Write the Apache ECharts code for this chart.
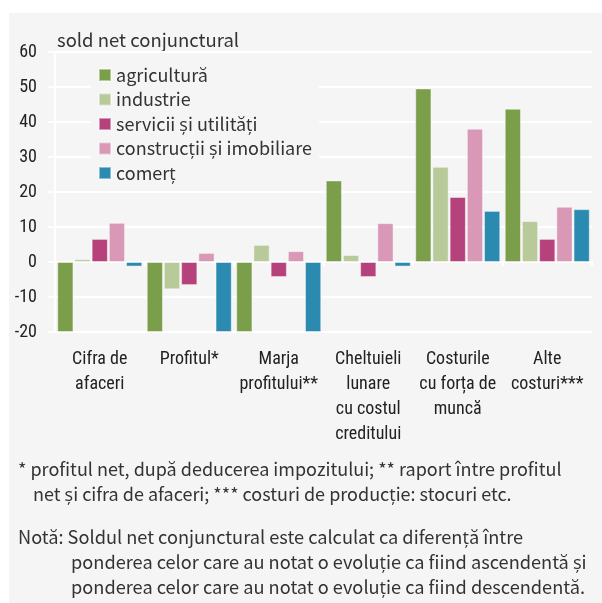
<!DOCTYPE html>
<html>
<head>
<meta charset="utf-8">
<script src="https://cdn.jsdelivr.net/npm/echarts@6/dist/echarts.min.js"></script>
<style>
html, body { margin: 0; padding: 0; background: #fff; }
#chart { width: 602px; height: 603px; }
</style>
</head>
<body>
<div id="chart"></div>
<script>
var categories = ['Cifra de\nafaceri', 'Profitul*', 'Marja\nprofitului**', 'Cheltuieli\nlunare\ncu costul\ncreditului', 'Costurile\ncu forța de\nmuncă', 'Alte\ncosturi***'];
var seriesNames = ['agricultură', 'industrie', 'servicii și utilități', 'construcții și imobiliare', 'comerț'];
var agricultura = [-20, -20, -20, 23.3, 49.6, 43.8];
var industrie = [0.8, -7.8, 4.9, 2.0, 27.2, 11.7];
var servicii = [6.6, -6.6, -4.3, -4.3, 18.6, 6.6];
var constructii = [11.2, 2.6, 3.1, 11.1, 38.1, 15.8];
var comert = [-1.3, -20, -20, -1.3, 14.6, 15.1];
var yTicks = [-20, -10, 0, 10, 20, 30, 40, 50, 60];
var colors = ['#7b9e4a', '#b8c99a', '#b5427b', '#d898b6', '#2a8ab0'];
var footLines = [
	'* profitul net, după deducerea impozitului; ** raport între profitul',
	'net și cifra de afaceri; *** costuri de producție: stocuri etc.'
];
var noteLines = [
	'Notă: Soldul net conjunctural este calculat ca diferență între',
	'ponderea celor care au notat o evoluție ca fiind ascendentă și',
	'ponderea celor care au notat o evoluție ca fiind descendentă.'
];

var values = [agricultura, industrie, servicii, constructii, comert];
// Source Sans look-alike (latin part of Noto CJK) and a condensed face for the axes
var txtFont = "'Noto Sans CJK SC', 'Open Sans', sans-serif";
var narrowFont = "'Roboto Condensed', 'DejaVu Sans Condensed', sans-serif";

var series = [];
for (var i = 0; i < seriesNames.length; i++) {
	series.push({
		name: seriesNames[i],
		type: 'bar',
		xAxisIndex: 0,
		data: values[i],
		barCategoryGap: '5%',
		barGap: '6%',
		itemStyle: {
			color: colors[i],
			borderColor: 'rgba(255,255,255,0.45)',
			borderWidth: 1
		}
	});
}

function txt(x, y, s, size) {
	return {
		type: 'text',
		x: x,
		y: y,
		style: { text: s, font: size + 'px ' + txtFont, fill: '#333', verticalAlign: 'middle' }
	};
}

var graphics = [{
	type: 'rect',
	shape: { x: 9, y: 13, width: 593, height: 590 },
	style: { fill: '#f5f5f5' },
	z: -10
}];
graphics.push(txt(57, 40, 'sold net conjunctural', 18.5));
graphics.push(txt(18, 469, footLines[0], 18));
graphics.push(txt(33, 494, footLines[1], 18));
for (var k = 0; k < noteLines.length; k++) {
	graphics.push(txt(k == 0 ? 18 : 71, 537 + k * 25, noteLines[k], 18.2));
}

var option = {
	animation: false,
	backgroundColor: '#fff',
	graphic: graphics,
	legend: {
		orient: 'vertical',
		left: 91,
		top: 61,
		width: 213,
		padding: [5, 7, 5, 7],
		backgroundColor: '#f5f5f5',
		icon: 'rect',
		itemWidth: 12,
		itemHeight: 12,
		itemGap: 6.5,
		data: seriesNames,
		textStyle: { fontFamily: txtFont, fontSize: 18, color: '#333' }
	},
	grid: { left: 55, right: 10, top: 52, bottom: 271, containLabel: false },
	xAxis: [{
		type: 'category',
		data: categories,
		axisLine: { onZero: true, lineStyle: { color: '#fff', width: 2 } },
		axisTick: { show: true, length: 4, lineStyle: { color: '#fff', width: 2 } },
		axisLabel: { show: false },
		splitLine: { show: false }
	}, {
		type: 'category',
		position: 'bottom',
		data: categories,
		axisLine: { show: false },
		axisTick: { show: false },
		axisLabel: {
			margin: 15,
			interval: 0,
			fontFamily: narrowFont,
			fontSize: 18,
			lineHeight: 25,
			color: '#222'
		}
	}],
	yAxis: {
		type: 'value',
		min: yTicks[0],
		max: yTicks[yTicks.length - 1],
		interval: 10,
		axisLine: { show: true, lineStyle: { color: '#fff', width: 2 } },
		axisTick: { show: true, length: 7, lineStyle: { color: '#fff', width: 2 } },
		axisLabel: { margin: 18, fontFamily: narrowFont, fontSize: 18, color: '#222' },
		splitLine: { lineStyle: { color: '#fff', width: 2 } }
	},
	series: series
};

var chart = echarts.init(document.getElementById('chart'));
chart.setOption(option);
</script>
</body>
</html>
